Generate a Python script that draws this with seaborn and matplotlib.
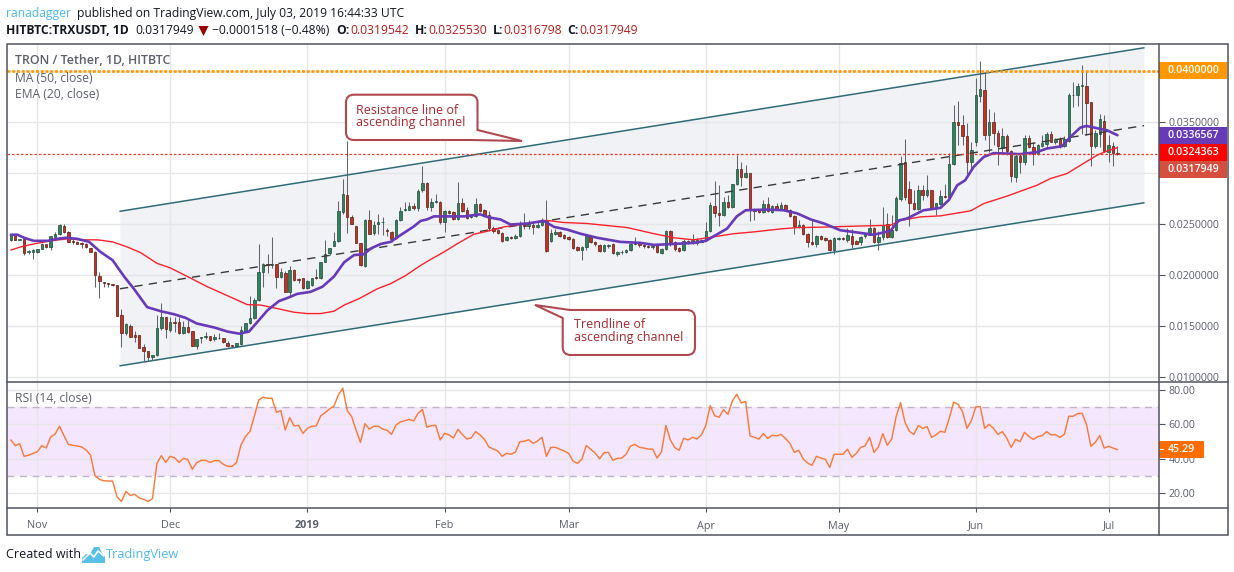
import numpy as np
import pandas as pd
import matplotlib
matplotlib.use('Agg')
import matplotlib.pyplot as plt
from matplotlib.patches import PathPatch, Polygon, Rectangle
from matplotlib.path import Path
import seaborn as sns

# prices below are in units of 0.0001, one row per ten daily candles
opens = [234,239,234,235,222,222,222,225,230,227, 237,240,248,242,233,232,231,230,226,222,
         199,193,192,191,190,160,143,150,141,141, 129,125,119,121,148,158,146,153,153,143,
         149,145,130,138,139,140,137,138,138,133, 131,130,132,145,152,157,175,202,210,209,
         210,198,201,183,204,196,197,187,190,198, 197,212,221,228,233,261,278,256,248,231,
         208,253,241,250,251,244,242,236,253,263, 263,267,265,283,290,266,271,271,251,262,
         261,254,270,263,256,257,269,263,258,246, 244,241,234,237,236,238,249,248,249,247,
         249,253,233,240,242,239,237,235,227,224, 227,238,232,229,223,228,230,220,222,222,
         224,230,231,229,228,227,229,221,225,243, 232,226,224,233,231,231,232,234,243,267,
         260,258,271,266,289,303,296,300,264,263, 261,269,261,267,264,268,263,257,247,249,
         240,232,230,238,236,234,224,235,236,234, 238,233,232,238,239,246,232,237,250,237,
         244,274,310,284,270,264,283,278,283,265, 269,277,276,308,350,347,336,310,330,375,
         381,337,350,339,324,336,321,296,316,310, 334,325,318,326,328,338,330,333,326,331,
         376,376,385,385,369,326,338,351,320,326,319.542]
closes = [239,234,235,221,223,224,225,230,227,238, 240,249,242,232,232,230,230,227,222,200,
          194,192,191,190,159,143,151,139,139,128, 125,119,121,148,158,147,153,152,143,149,
          144,130,137,139,140,136,139,138,134,130, 130,133,146,152,157,175,202,210,209,210,
          198,202,183,204,195,195,187,194,197,197, 212,220,226,233,262,279,256,250,231,209,
          253,240,249,251,251,243,235,253,262,264, 267,265,282,290,266,271,272,251,262,260,
          254,270,262,255,258,269,262,257,246,243, 241,233,237,236,238,249,248,250,247,249,
          253,223,241,242,238,236,235,226,224,227, 238,232,230,223,229,229,221,222,222,224,
          230,231,229,228,227,228,222,225,243,232, 225,223,233,231,234,234,234,243,268,260,
          258,271,266,289,303,296,300,263,262,261, 269,262,267,264,268,263,257,248,249,240,
          232,230,238,235,234,224,236,236,235,239, 230,230,237,240,246,232,237,249,237,244,
          275,309,276,270,264,283,278,283,265,270, 277,276,308,350,347,336,310,322,376,382,
          337,350,339,326,336,321,297,316,310,334, 325,318,327,329,338,330,333,326,333,376,
          376,385,386,368,326,339,352,321,327,319.542,317.949]
highs = [240,240,235,235,224,225,225,231,230,238, 242,250,250,243,235,233,232,231,226,223,
         202,193,192,191,190,166,152,151,145,141, 132,125,121,160,172,158,158,158,158,154,
         155,145,137,139,144,140,142,143,138,135, 131,133,150,152,179,177,230,211,220,237,
         210,206,203,208,205,197,197,195,197,205, 212,234,226,242,272,294,331,258,248,231,
         254,263,252,259,256,246,243,254,266,271, 271,270,284,306,291,275,279,272,263,263,
         262,291,275,266,259,275,270,264,262,248, 245,242,238,238,240,252,260,253,251,251,
         255,273,245,245,243,240,238,236,228,228, 239,239,233,230,230,230,231,223,224,225,
         231,237,232,230,229,229,230,226,244,244, 233,227,235,234,240,236,235,251,271,292,
         288,276,278,289,317,310,307,300,265,264, 273,276,268,270,271,269,264,258,253,250,
         241,253,239,239,237,235,237,237,237,246, 245,234,238,242,254,247,243,266,260,258,
         277,316,333,292,283,288,288,298,283,270, 283,289,319,366,370,356,349,330,393,409,
         399,362,359,342,344,338,322,319,319,337, 337,330,328,337,340,341,334,335,336,378,
         389,388,405,400,369,342,357,356,337,330,325.53]
lows = [233,234,234,219,220,215,221,225,226,224, 237,239,241,232,230,230,226,226,222,188,
        177,188,188,189,159,129,141,139,134,128, 114,115,116,120,146,138,144,144,142,142,
        143,130,127,133,137,135,135,137,133,129, 130,130,131,144,151,156,174,188,201,206,
        187,197,183,178,194,192,186,186,189,196, 196,212,219,228,232,259,241,250,231,208,
        207,240,239,240,239,238,232,235,252,262, 263,263,262,281,263,262,270,250,242,259,
        253,253,261,254,255,256,261,256,243,241, 240,232,233,235,235,237,245,245,240,246,
        248,222,232,239,237,235,234,225,223,214, 224,231,228,222,222,226,220,218,220,221,
        223,229,227,226,226,225,221,220,224,228, 223,222,223,230,230,229,232,233,242,256,
        248,257,265,265,288,287,295,252,253,260, 260,261,260,263,263,262,256,240,246,239,
        227,229,227,234,233,223,220,234,234,232, 226,230,229,236,239,231,224,234,236,236,
        243,272,273,248,263,263,273,276,265,258, 268,275,276,307,327,327,299,301,326,369,
        332,320,327,307,320,317,291,291,300,307, 324,307,317,325,324,330,328,324,325,330,
        364,365,338,337,306,324,325,320,310,306,316.798]

rsi_values = [50.9,47.6,48.7,41.4,42,43.1,44.1,47.6,46.2,52.6,54.3,58.8,53.4,48.3,47.8,47.4,46.8,45.1,42.2,30.2,
              28.1,27.3,27.1,27.1,18,15.3,21.1,18.8,19.4,17.3,16.5,15.3,16.9,37.2,41.8,37.9,41.4,40.6,37.9,40.2,
              39.5,33.9,37.7,39.1,39.1,37.9,38.9,38.9,36.8,35.6,35.6,37.9,48,52.8,55.7,64.4,74,75.6,75,75,
              66.9,67.8,56.6,63.8,59,59.3,54.7,57.6,58.8,59,64.8,66.7,68.8,70.5,76.9,80.8,67.8,64.4,56.6,49.5,
              60.3,57.2,58.8,58.8,57.2,56.5,54.1,59.5,61.3,62,62.8,61.9,66.3,68.5,
              58.2,59.2,59.3,50.9,54.7,53.8,52,57,54.1,51.4,52,55.7,53.8,51.2,46.8,45.6,44.5,41.4,43.1,42.6,
              43.9,49.9,50.1,51,48.9,50.3,52.4,41.4,46.6,46.6,45.6,44.5,43.1,38.7,37.3,39.7,47.6,45.5,43.3,39.9,
              43.5,43.7,39.1,40.2,40.4,42.6,47.4,48.3,46.6,46.2,45.6,45.6,40.4,44.1,59.2,50.9,46.4,44.9,51.8,50.9,
              52.4,51.4,53.8,59.2,70.7,64.9,64,68.4,65.7,73.4,77.3,72.3,73.2,53.2,52.4,51.4,54.5,51.8,53.6,53.2,
              54.1,51.8,48.9,43.7,44.9,39.9,37.5,36.2,41.4,40.4,39.7,35,42.6,42.6,
              42.6,45.5,40.8,43.1,46.6,47.4,52.4,43.7,46.8,54.5,47.8,51.4,64.4,72.5,61.1,55.9,54.1,59.2,57.6,58.6,
              52.4,53.8,55.9,55.3,63.4,72.7,71.5,67.3,57.6,62,70,70.2,57.6,59.9,57.6,54.1,55.7,51.8,46.6,51.2,
              49.9,55.3,52.8,51.2,52.8,53.4,55.7,53.8,53.9,52.4,54.1,64.6,64.6,66.1,66.3,59.9,47.2,49.5,53.4,46.2,
              47.2,46.2,45.29]

# moving averages read as line vertices, x in days since 1 Nov 2018
ema_days = [-6,-4.5,-3,-.8,2.3,4.5,6.4,9,11.7,14.3,17,19.6,21.8,24.8,27.9,30.9,33.5,36,40,43,45.6,47.8,49.7,52,54.6,
            56.5,58.7,61.7,64.4,67,69.3,71.5,73.8,75.3,77.6,79.8,82,85,86.6,88,89.6,92.6,96.4,100,102,104.6,106.9,
            110.7,114.4,116.7,119.7,122.7,126.5,131.7,136.3,139.3,143.8,148.3,151,153.2,155.8,158,160,164.9,168.6,
            171.6,174.7,177.7,181.4,185.9,188.9,192.7,194.6,196.5,200.2,204,205.9,207.8,209.6,211.5,213.8,216,219,
            222,225.8,228,231.5,233.4,235.6,237,240.1,241.6,244]
ema_values = [239,239,236,233,233,235,236,235,232,222,214,198,186,168,164,161,157.5,152,148,144,142,144,153.5,165,174,
              177,181,183,188,198,212,219,220,225.5,230,232,238.5,247,252.6,254,257,257,257,259,256,254,249,
              250,252.6,246.7,244,240,236,232,231,229,230,231,233,238.5,245,257,263,263.7,263,
              260,254,250,243.4,240.8,239,242.7,253,255,263,265.3,273,287.5,292.4,305.5,315.3,319,318.6,
              318,320,323.5,325.8,335,344,345.7,342.8,341.5,336.567]
ma_days = [-6,-3.8,-.8,3,6.8,9.8,13.6,17,20.3,23.3,27,30,33.9,38.4,44.4,47.4,50.5,54.2,58,61,64,67,69.3,72.7,76.8,79.8,
           83.2,86.6,88.8,91.8,94.8,98.6,101.6,105.4,109.2,112.9,115.2,118.9,124.2,133.3,139.3,143.8,148.3,152.8,
           157.3,161.9,167.9,171.6,176.9,181.4,192.7,195,199.5,204,210.8,213.8,219,225.8,228.8,232.6,235.6,239.4,
           241.6,244]
ma_values = [224,227,230,233,235,234,234,232,227,221.5,211,206.5,198,188,176.4,170.5,170,166.6,163,161.7,161.7,164,170,
             176.4,186,191,199,209,214.7,222,230,239.5,242.4,246.7,249,251.6,253,251,250,246,240,236,234,237,
             240,241.8,244.7,246,246.4,247,248.3,253,256.5,257.5,262.4,269.6,276.8,287.5,294,299,307,317,321,324.363]

# channel anchors: first and last day, then lower, middle and upper price at each
channel_days = [18.65, 250]
channel_low = [110.5, 270.3]
channel_mid = [186, 346]
channel_high = [262, 422.3]

last_close = 317.949
resistance = 400
month_days = [0, 30, 61, 92, 120, 151, 181, 212, 242]
month_labels = ['Nov', 'Dec', '2019', 'Feb', 'Mar', 'Apr', 'May', 'Jun', 'Jul']
price_ticks = [0.01, 0.015, 0.02, 0.025, 0.03, 0.035, 0.04]
covered_ticks = [0.03, 0.04]  # these two sit under the coloured value tags
rsi_ticks = [20, 40, 60, 80]

W, H = 1234, 572
PRICE_UNIT = 1e-4
LEFT, RIGHT = 6.7, 1159.3
GRID = '#e6e6e8'
FRAME = '#50535e'
TXT = '#5d606b'
UP, DOWN = '#33805c', '#bb3426'
BLUE = '#4db8ec'

sns.set_theme(style='white')
plt.rcParams['font.family'] = ['Open Sans', 'DejaVu Sans']

candles = pd.DataFrame({'day': np.arange(len(opens)) - 6, 'open': opens, 'close': closes,
                        'high': highs, 'low': lows, 'rsi': rsi_values})
for col in ['open', 'close', 'high', 'low']:
    candles[col] = candles[col] * PRICE_UNIT
ema = pd.DataFrame({'day': ema_days, 'value': np.array(ema_values) * PRICE_UNIT})
ma = pd.DataFrame({'day': ma_days, 'value': np.array(ma_values) * PRICE_UNIT})

fig = plt.figure(figsize=(W / 100, H / 100), dpi=100, facecolor='white')


def panel(top, bottom):
    return fig.add_axes([LEFT / W, 1 - bottom / H, (RIGHT - LEFT) / W, (bottom - top) / H])


ax = panel(43.5, 381.5)
ax_rsi = panel(381.5, 508)
xlim = (-6.93, 253.45)

# price panel
ax.fill_between(channel_days, np.array(channel_low) * PRICE_UNIT, np.array(channel_high) * PRICE_UNIT,
                color='#f0f2f5', lw=0, zorder=1)
for vals in (channel_low, channel_high):
    ax.plot(channel_days, np.array(vals) * PRICE_UNIT, color='#2f6b78', lw=1.1, zorder=2)
ax.plot(channel_days, np.array(channel_mid) * PRICE_UNIT, color='#3a3a3a', lw=1.0, dashes=(6, 4.5), zorder=5)

ax.vlines(candles['day'], candles['low'], candles['high'], color='#62656e', lw=0.75, zorder=3)
up = candles['close'] >= candles['open']
body_bottom = candles[['open', 'close']].min(axis=1)
body_height = (candles['close'] - candles['open']).abs()
ax.bar(candles['day'], body_height, bottom=body_bottom, width=0.56,
       color=np.where(up, UP, DOWN), edgecolor=np.where(up, '#1d4a38', '#5c1a12'), linewidth=0.5, zorder=4)

sns.lineplot(data=ma, x='day', y='value', ax=ax, color='#f8232d', lw=1.0, zorder=6, sort=False, errorbar=None)
sns.lineplot(data=ema, x='day', y='value', ax=ax, color='#673ab7', lw=1.9, zorder=7, sort=False, errorbar=None)
ax.axhline(resistance * PRICE_UNIT, color='#ff9800', lw=1.9, ls=(0, (1.1, 0.7)), zorder=8)
ax.axhline(last_close * PRICE_UNIT, color='#f0392b', lw=0.9, ls=(0, (2, 1.6)), zorder=8)

ax.set_ylim(0.00951, 0.04265)
ax.set_yticks(price_ticks)
ax.set_yticklabels(['' if t in covered_ticks else f'{t:.7f}' for t in price_ticks])
ax.yaxis.tick_right()
ax.tick_params(axis='y', length=4, width=0.8, color=FRAME, labelcolor=TXT, labelsize=7.7, pad=2.5, right=True)

# rsi panel
ax_rsi.axhspan(30, 70, color='#f4e6fd', lw=0, zorder=1)
for level in (30, 70):
    ax_rsi.axhline(level, color='#c0b4c8', lw=1.0, dashes=(5, 4), zorder=2.5)
sns.lineplot(data=candles, x='day', y='rsi', ax=ax_rsi, color='#f77c3c', lw=1.05, zorder=4, errorbar=None)
ax_rsi.set_ylim(11.5, 84.7)
ax_rsi.set_yticks(rsi_ticks)
ax_rsi.set_yticklabels([f'{t:.2f}' for t in rsi_ticks])
ax_rsi.yaxis.tick_right()
ax_rsi.tick_params(axis='y', length=4, width=0.8, color=FRAME, labelcolor=TXT, labelsize=7.7, pad=2.5, right=True)
ax_rsi.set_xticks(month_days)
ax_rsi.set_xticklabels(month_labels)
ax_rsi.tick_params(axis='x', length=3, width=0.8, color=FRAME, labelcolor=TXT, labelsize=7.8, pad=6, bottom=True)
ax_rsi.get_xticklabels()[2].set_fontweight('bold')

for a in (ax, ax_rsi):
    a.set_xlim(*xlim)
    a.set_axisbelow('line')
    a.grid(True, color=GRID, lw=1.0)
    a.set_xlabel('')
    a.set_ylabel('')
    for s in a.spines.values():
        s.set_visible(False)
ax.set_xticks(month_days)
ax.tick_params(axis='x', length=0, labelbottom=False)

# everything else is page furniture, placed in image pixels
over = fig.add_axes([0, 0, 1, 1], facecolor='none')
over.set_xlim(0, W)
over.set_ylim(H, 0)
over.axis('off')


def label(x, y, s, color='#131722', size=8.7, ha='left', weight='normal', z=20):
    over.text(x, y, s, color=color, fontsize=size, ha=ha, va='center', fontweight=weight, zorder=z)


def bubble(points):
    verts, codes = [], []
    n = len(points)
    for i, (x, y, r) in enumerate(points):
        if r == 0:
            verts.append((x, y))
            codes.append(Path.LINETO)
            continue
        p = np.array([x, y])
        before = np.array(points[i - 1][:2]) - p
        after = np.array(points[(i + 1) % n][:2]) - p
        verts += [tuple(p + before / np.hypot(*before) * r), (x, y), tuple(p + after / np.hypot(*after) * r)]
        codes += [Path.LINETO, Path.CURVE3, Path.CURVE3]
    codes[0] = Path.MOVETO
    verts.append(verts[0])
    codes.append(Path.CLOSEPOLY)
    over.add_patch(PathPatch(Path(verts, codes), fc='white', ec='#b04a50', lw=1.5, zorder=12))


bubble([(346, 94.7, 8), (477.5, 94.7, 8), (477.5, 130, 0), (522, 141, 0), (470, 140, 0), (346, 140, 8)])
bubble([(562.7, 318, 0), (535, 305, 0), (570, 310, 0), (695, 310, 8), (695, 355, 8), (562.7, 355, 8)])
label(356.5, 110.5, 'Resistance line of', color='#a8272f', size=9)
label(356.5, 122.5, 'ascending channel', color='#a8272f', size=9)
label(574, 325, 'Trendline of', color='#a8272f', size=9)
label(574, 337, 'ascending channel', color='#a8272f', size=9)

label(15, 60.5, 'TRON / Tether, 1D, HITBTC', color=TXT, size=8.9, weight='semibold')
label(15, 78, 'MA (50, close)', color=TXT)
label(15, 95, 'EMA (20, close)', color=TXT)
label(15, 398.5, 'RSI (14, close)', color=TXT)

# value tags on the right hand scales
for top, bottom, tag, col in [(62, 79, '0.0400000', '#ff9800'), (127, 144, '0.0336567', '#673ab7'),
                              (144, 161, '0.0324363', '#ff0000'), (161, 178, '0.0317949', '#d64f3e')]:
    over.add_patch(Rectangle((1159.3, top), 68, bottom - top, fc=col, ec='none', zorder=14))
    label(1168, (top + bottom) / 2, tag, color='white', size=7.7, weight='semibold')
over.add_patch(Rectangle((1159.3, 441), 44.7, 16.7, fc='#ff6d00', ec='none', zorder=14))
over.plot([1159.3, 1163.3], [449.3, 449.3], color='white', lw=0.8, zorder=15)
label(1168, 449.3, '45.29', color='white', size=7.7, weight='semibold')

# frame
over.add_patch(Rectangle((6.5, 43.5), 1221, 491.5, fc='none', ec=FRAME, lw=1.1, zorder=18))
over.plot([1159.3, 1159.3], [43.5, 535], color=FRAME, lw=1.1, zorder=18)
over.plot([6.5, 1227.5], [381.5, 381.5], color=FRAME, lw=1.1, zorder=18)
over.plot([6.5, 1227.5], [508, 508], color=FRAME, lw=1.1, zorder=18)

# header
label(6, 13, 'ranadagger', color=BLUE)
label(77, 13, 'published on TradingView.com, July 03, 2019 16:44:33 UTC')
label(6, 30, 'HITBTC:TRXUSDT, 1D', weight='bold')
label(135, 30, '0.0317949')
over.add_patch(Polygon([(198.5, 26), (208.5, 26), (203.5, 36)], fc='#990000', ec='none'))
label(212, 30, '\u22120.0001518 (\u22120.48%)')
for x_key, key, x_val, val in [(336, 'O:', 350, '0.0319542'), (414.5, 'H:', 428, '0.0325530'),
                               (492.5, 'L:', 503, '0.0316798'), (567, 'C:', 579, '0.0317949')]:
    label(x_key, 30, key, weight='bold')
    label(x_val, 30, val, color='#b71c1c')

# footer with a small cloud mark
label(6, 554.5, 'Created with', size=9)
cloud = [(82, 563), (82, 558), (86, 554), (90, 554), (94, 547), (99, 547), (102, 553), (105, 556), (105, 563)]
over.add_patch(Polygon(cloud, fc='#58c0e8', ec='none', zorder=20))
over.plot([83, 90, 94, 98, 104], [560, 553, 557, 551, 556], color='white', lw=1.2, zorder=21)
label(106, 554.5, 'TradingView', color=BLUE, size=9.2)

fig.savefig('out.png', dpi=100)
